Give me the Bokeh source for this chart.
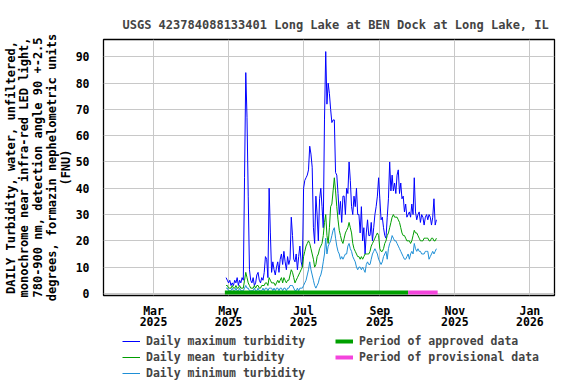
import pandas as pd
from bokeh.plotting import figure
from bokeh.layouts import column
from bokeh.models import ColumnDataSource, FixedTicker, Legend, LegendItem, Range1d
from bokeh.embed import file_html
from bokeh.resources import INLINE

# ---------------- data ----------------
start_date = "2025-04-29"

daily_max = [
    6, 5, 4,
    5, 3, 4, 3, 5, 4, 6, 3, 5, 4, 6,
    5, 44, 84, 67, 37, 9,
    5, 4, 6, 3, 4, 7, 8, 5, 4, 6, 5, 8,
    14, 13, 6,
    40, 23, 8, 12, 9, 7, 10, 12, 8, 13, 15, 11, 16, 12, 9, 14, 11, 13, 29, 22, 13,
    12, 15, 9, 14, 18, 12, 10,
    40, 43, 44, 45, 47, 56, 53, 48, 25, 19,
    37, 30, 20, 36, 40, 33, 25, 66, 92, 72,
    80, 76, 70, 65, 66, 66, 46, 45, 38, 30,
    35, 27, 37, 37, 30, 40, 38, 50, 43, 33,
    30, 37, 33, 40, 30, 30, 23, 33, 20, 25,
    15, 23, 28, 22,
    22, 27, 20, 25, 30, 33, 37, 44, 36, 28,
    29, 25, 22, 21, 29, 36, 50, 39, 45, 39,
    42, 38, 45, 47, 38, 42, 36, 37, 31, 34,
    29, 30, 31, 29, 34, 30, 44, 31, 28, 30,
    31, 27, 30, 29, 26, 29, 30, 28, 30, 29,
    26, 29, 36, 26, 28,
]

daily_mean = [
    3, 3, 2,
    2, 2, 3, 2, 2, 3, 2, 2, 3, 2, 2,
    2, 5, 8, 6, 4, 3,
    2, 2, 2, 3, 2, 3, 3, 2, 2, 3, 3, 3,
    4, 4, 3,
    6, 5, 4, 4, 4, 3, 4, 5, 4, 5, 6, 4, 6, 5, 4, 5, 5, 7, 9, 8, 6,
    4, 5, 6, 7, 8, 9, 10,
    14, 16, 18, 19, 20, 19, 17, 15, 13, 10,
    11, 14, 15, 17, 18, 19, 22, 27, 30, 22,
    19, 25, 33, 34, 39, 44, 39, 33, 28, 24,
    22, 20, 19, 21, 23, 24, 25, 27, 25, 23,
    19, 17, 16, 15, 14, 14, 13, 14, 13, 14,
    15, 15, 15, 15,
    16, 18, 19, 20, 21, 22, 23, 22, 17, 16,
    16, 17, 19, 20, 22, 23, 25, 27, 29, 30,
    29, 29, 29, 28, 27, 25, 23, 22, 22, 21,
    20, 20, 20, 19, 20, 22, 24, 23, 23, 22,
    21, 20, 20, 20, 21, 21, 21, 21, 20, 20,
    21, 21, 20, 20, 21,
]

daily_min = [
    2, 2, 1,
    1, 1, 2, 1, 1, 2, 1, 1, 2, 1, 1,
    1, 2, 3, 2, 2, 1,
    1, 1, 1, 2, 1, 1, 2, 1, 1, 1, 2, 1,
    2, 2, 1,
    2, 2, 2, 1, 2, 1, 2, 2, 1, 2, 2, 1, 2, 2, 1, 2, 2, 3, 3, 3, 2,
    1, 1, 2, 1, 2, 2, 2,
    3, 4, 5, 7, 9, 12, 9, 7, 5, 3,
    2, 3, 4, 6, 7, 9, 12, 15, 21, 15,
    18, 19, 20, 22, 24, 25, 21, 18, 16, 15,
    13, 14, 13, 14, 15, 15, 18, 19, 17, 16,
    14, 13, 12, 10, 9, 10, 10, 9, 10, 9,
    8, 11, 12, 11,
    11, 13, 15, 16, 17, 16, 15, 13, 12, 11,
    12, 14, 15, 16, 13, 17, 19, 20, 22, 21,
    20, 20, 19, 18, 17, 16, 15, 14, 13, 13,
    14, 15, 13, 15, 16, 15, 19, 17, 16, 17,
    16, 16, 15, 15, 15, 16, 16, 16, 13, 14,
    15, 16, 15, 16, 17,
]

approved_period = ["2025-04-28", "2025-09-24"]
provisional_period = ["2025-09-24", "2025-10-18"]

x_tick_dates = ["2025-03-01", "2025-05-01", "2025-07-01", "2025-09-01", "2025-11-01", "2026-01-01"]
x_tick_labels = ["Mar\n2025", "May\n2025", "Jul\n2025", "Sep\n2025", "Nov\n2025", "Jan\n2026"]
y_ticks = [0, 10, 20, 30, 40, 50, 60, 70, 80, 90]

title_text = "USGS 423784088133401 Long Lake at BEN Dock at Long Lake, IL"
y_label = ("DAILY Turbidity, water, unfiltered,\n"
           "monochrome near infra-red LED light,\n"
           "780-900 nm, detection angle 90 +-2.5\n"
           "degrees, formazin nephelometric units\n"
           "(FNU)")

series_labels = ["Daily maximum turbidity", "Daily mean turbidity", "Daily minimum turbidity",
                 "Period of approved data", "Period of provisional data"]

# ---------------- build ----------------
FONT = "DejaVu Sans Mono"
C_MAX, C_MEAN, C_MIN = "#0000FF", "#009E00", "#1E8FD6"
C_APP, C_PROV = "#00A000", "#F444DC"

dates = pd.date_range(start_date, periods=len(daily_max), freq="D")
src = ColumnDataSource(dict(date=dates, vmax=daily_max, vmean=daily_mean, vmin=daily_min))

bar_y = 0.35
app_src = ColumnDataSource(dict(x=pd.to_datetime(approved_period), y=[bar_y, bar_y]))
prov_src = ColumnDataSource(dict(x=pd.to_datetime(provisional_period), y=[bar_y, bar_y]))

p = figure(width=576, height=333, x_axis_type="datetime",
           x_range=Range1d(pd.Timestamp("2025-01-19 08:00"), pd.Timestamp("2026-01-21")),
           y_range=Range1d(-0.8, 96.6),
           output_backend="svg", toolbar_location=None,
           min_border_left=103, min_border_right=22, min_border_top=39, min_border_bottom=38)

p.title.text = title_text
p.title.text_font = FONT
p.title.text_font_size = "12px"
p.title.text_font_style = "bold"
p.title.align = "left"
p.title.offset = 19
p.title.standoff = 16

p.line("date", "vmax", source=src, line_color=C_MAX, line_width=1)
p.line("date", "vmean", source=src, line_color=C_MEAN, line_width=1)
p.line("date", "vmin", source=src, line_color=C_MIN, line_width=1)
p.line("x", "y", source=app_src, line_color=C_APP, line_width=4)
p.line("x", "y", source=prov_src, line_color=C_PROV, line_width=4)

tick_ms = [float(pd.Timestamp(d).value // 10**6) for d in x_tick_dates]
p.xaxis.ticker = FixedTicker(ticks=tick_ms)
p.xaxis.major_label_overrides = {t: lab for t, lab in zip(tick_ms, x_tick_labels)}
p.yaxis.ticker = FixedTicker(ticks=y_ticks)

for ax in (p.xaxis, p.yaxis):
    ax.axis_line_color = None
    ax.major_tick_line_color = None
    ax.minor_tick_line_color = None
    ax.major_label_text_font = FONT
    ax.major_label_text_font_size = "11.5px"
    ax.major_label_text_font_style = "bold"
    ax.major_label_text_color = "black"
p.yaxis.major_label_standoff = 8
p.xaxis.major_label_standoff = 2
p.xaxis.major_label_text_line_height = 0.85

p.yaxis.axis_label = y_label
p.yaxis.axis_label_text_font = FONT
p.yaxis.axis_label_text_font_size = "12px"
p.yaxis.axis_label_text_font_style = "bold"
p.yaxis.axis_label_text_color = "black"
p.yaxis.axis_label_text_line_height = 0.98
p.yaxis.axis_label_standoff = 0

p.xgrid.grid_line_color = "#C8C8C8"
p.ygrid.grid_line_color = "#C8C8C8"
p.xgrid.grid_line_width = 1
p.ygrid.grid_line_width = 1
p.outline_line_color = "black"
p.outline_line_width = 1.3
p.outline_line_alpha = 1

# ---------------- legend strip below the chart ----------------
lg = figure(width=576, height=51, x_range=Range1d(0, 1), y_range=Range1d(0, 1),
            x_axis_location=None, y_axis_location=None,
            output_backend="svg", toolbar_location=None,
            min_border_left=0, min_border_right=0, min_border_top=0, min_border_bottom=0)
lg.outline_line_color = None
lg.xgrid.visible = False
lg.ygrid.visible = False
# legend-only renderers: their points lie outside the strip's ranges, so nothing is drawn
hidden_x, hidden_y = [5, 6], [5, 6]
l_max = lg.line(x=hidden_x, y=hidden_y, line_color=C_MAX, line_width=1)
l_mean = lg.line(x=hidden_x, y=hidden_y, line_color=C_MEAN, line_width=1)
l_min = lg.line(x=hidden_x, y=hidden_y, line_color=C_MIN, line_width=1)
l_app = lg.line(x=hidden_x, y=hidden_y, line_color=C_APP, line_width=4)
l_prov = lg.line(x=hidden_x, y=hidden_y, line_color=C_PROV, line_width=4)

legend = Legend(items=[LegendItem(label=lab, renderers=[r]) for lab, r in
                       zip(series_labels, [l_max, l_mean, l_min, l_app, l_prov])],
                nrows=3, location=(19, 4))
legend.label_text_font = FONT
legend.label_text_font_size = "11.5px"
legend.label_text_font_style = "bold"
legend.glyph_width = 18
legend.glyph_height = 14
legend.label_height = 14
legend.label_width = 187
legend.label_standoff = 6
legend.spacing = 2
legend.padding = 0
legend.margin = 0
legend.border_line_color = None
legend.background_fill_alpha = 0
lg.add_layout(legend, "center")

layout = column(p, lg, spacing=0)
open("out.html", "w").write(file_html(layout, INLINE))
